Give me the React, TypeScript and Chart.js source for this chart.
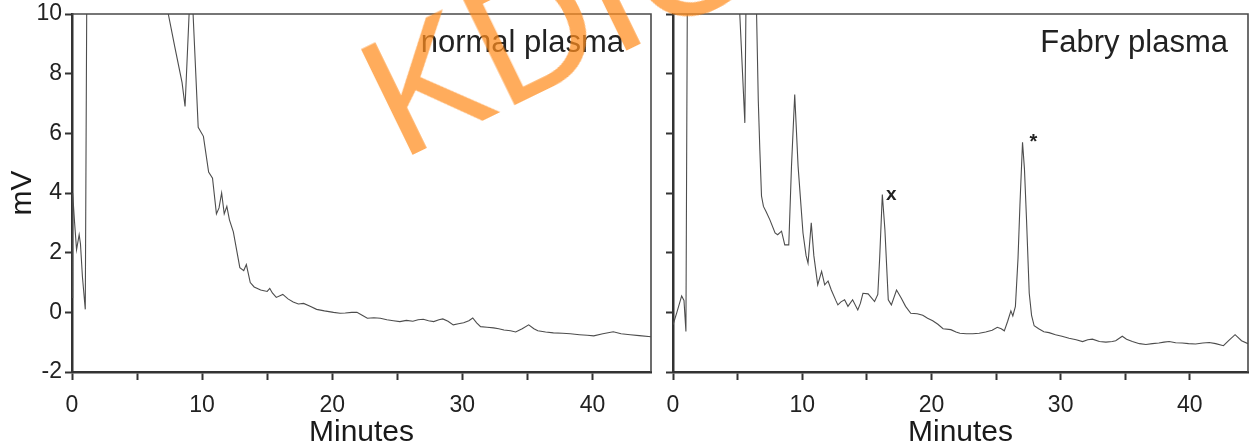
import React, { useEffect, useRef } from 'react';
import { Chart, registerables } from 'chart.js';

Chart.register(...registerables);

// ---------- data ----------
const normalTime = [
  0, 0.05, 0.2, 0.35, 0.55, 0.65, 0.8, 1.02, 1.35, 7.0,
  7.4, 7.9, 8.46, 8.69, 9.15, 9.7, 10.1, 10.5, 10.8, 11.1,
  11.3, 11.5, 11.7, 11.9, 12.1, 12.4, 12.9, 13.2, 13.4, 13.7,
  14.0, 14.5, 15.0, 15.2, 15.4, 15.7, 16.2, 16.6, 17.0, 17.4,
  17.8, 18.3, 18.8, 19.4, 20.1, 20.6, 21.0, 21.5, 21.9, 22.3,
  22.7, 23.2, 23.7, 24.2, 24.7, 25.2, 25.7, 26.2, 26.6, 27.0,
  27.4, 27.8, 28.2, 28.5, 28.9, 29.3, 29.7, 30.1, 30.5, 30.8,
  31.1, 31.4, 31.9, 32.4, 32.8, 33.2, 33.7, 34.1, 34.6, 35.1,
  35.5, 35.8, 36.4, 37.0, 37.7, 38.3, 39.0, 39.6, 40.1, 40.8,
  41.6, 42.2, 42.9, 43.6, 44.5,
];
const normalMv = [
  0.5, 4.0, 3.0, 2.1, 2.6, 2.3, 1.2, 0.1, 30, 10.9,
  10.0, 8.9, 7.7, 6.9, 11.5, 6.2, 5.9, 4.7, 4.5, 3.3,
  3.5, 4.0, 3.3, 3.55, 3.1, 2.7, 1.5, 1.4, 1.6, 1.0,
  0.85, 0.75, 0.7, 0.8, 0.65, 0.5, 0.6, 0.45, 0.35, 0.28,
  0.3, 0.2, 0.1, 0.05, 0.0, -0.03, -0.02, 0.0, 0.0, -0.1,
  -0.2, -0.18, -0.2, -0.25, -0.28, -0.31, -0.27, -0.3, -0.25, -0.23,
  -0.28, -0.31, -0.25, -0.22, -0.3, -0.42, -0.38, -0.35, -0.28, -0.19,
  -0.35, -0.48, -0.5, -0.52, -0.55, -0.59, -0.62, -0.66, -0.55, -0.42,
  -0.55, -0.62, -0.66, -0.69, -0.7, -0.72, -0.75, -0.77, -0.79, -0.72,
  -0.65, -0.72, -0.75, -0.78, -0.82,
];

const fabryTime = [
  0, 0.3, 0.67, 0.85, 1.0, 1.3, 4.9, 5.56, 5.7, 6.4,
  6.6, 6.72, 6.85, 7.0, 7.2, 7.5, 7.9, 8.1, 8.4, 8.65,
  8.96, 9.17, 9.42, 9.68, 10.06, 10.3, 10.45, 10.7, 10.9, 11.2,
  11.5, 11.74, 12.0, 12.25, 12.6, 12.76, 13.0, 13.28, 13.54, 13.9,
  14.3, 14.5, 14.7, 15.1, 15.6, 15.85, 16.0, 16.2, 16.4, 16.66,
  16.9, 17.3, 17.66, 18.0, 18.4, 18.9, 19.33, 19.7, 20.1, 20.5,
  20.9, 21.5, 21.9, 22.2, 22.7, 23.2, 23.7, 24.2, 24.7, 25.1,
  25.4, 25.64, 25.9, 26.15, 26.3, 26.5, 26.7, 26.85, 27.05, 27.2,
  27.36, 27.57, 27.75, 27.95, 28.3, 28.7, 29.1, 29.6, 30.1, 30.65,
  31.2, 31.7, 32.1, 32.46, 33.0, 33.5, 34.0, 34.26, 34.77, 35.1,
  35.55, 36.1, 36.6, 37.1, 37.6, 38.0, 38.4, 38.9, 39.4, 39.9,
  40.44, 41.0, 41.5, 42.0, 42.6, 43.0, 43.5, 44.0, 44.5,
];
const fabryMv = [
  -0.42, 0.0, 0.55, 0.4, -0.64, 30, 12.5, 6.35, 12.7, 11.5,
  7.1, 5.45, 3.9, 3.55, 3.38, 3.1, 2.66, 2.6, 2.72, 2.26,
  2.26, 4.9, 7.3, 4.9, 2.66, 1.9, 1.65, 3.0, 1.9, 0.92,
  1.37, 0.92, 1.05, 0.75, 0.4, 0.25, 0.35, 0.42, 0.2, 0.42,
  0.08, 0.3, 0.64, 0.62, 0.36, 0.6, 1.87, 3.95, 2.77, 0.42,
  0.25, 0.75, 0.48, 0.2, -0.03, -0.05, -0.1, -0.2, -0.28, -0.4,
  -0.55, -0.58, -0.66, -0.7, -0.72, -0.72, -0.7, -0.66, -0.6, -0.5,
  -0.55, -0.62, -0.3, 0.05, -0.12, 0.2, 1.8, 3.6, 5.7, 4.8,
  3.1, 0.64, -0.1, -0.45, -0.55, -0.65, -0.68, -0.75, -0.8, -0.87,
  -0.92, -0.98, -0.92, -0.9, -0.98, -1.0, -0.98, -0.95, -0.8, -0.9,
  -0.98, -1.05, -1.08, -1.05, -1.03, -1.0, -0.98, -1.02, -1.03, -1.05,
  -1.06, -1.03, -1.01, -1.05, -1.12, -0.95, -0.75, -0.95, -1.05,
];

const fabryMarkTime = [16.9, 27.9];
const fabryMarkMv = [3.94, 5.5];
const fabryMarkText = ['x', '*'];

const xTickValues = [0, 5, 10, 15, 20, 25, 30, 35, 40];
const xTickLabels = ['0', '', '10', '', '20', '', '30', '', '40'];
const yTickValues = [-2, 0, 2, 4, 6, 8, 10];
const yTickLabels = ['-2', '0', '2', '4', '6', '8', '10'];

const panelTitles = ['normal plasma', 'Fabry plasma'];
const xAxisTitle = 'Minutes';
const yAxisTitle = 'mV';
const watermarkText = 'KDIGO';

// ---------- styling ----------
const FONT = '"Liberation Sans", Arial, Helvetica, sans-serif';
const X_MIN = 0;
const X_MAX = 44.5;
const Y_MIN = -2;
const Y_MAX = 10;
const CANVAS_H = 446;

function makeDecorPlugin(label: string, inset: number, markT: number[], markV: number[], markText: string[]) {
  return {
    id: 'panelDecor',
    afterDatasetsDraw(chart: any) {
      const { ctx, chartArea } = chart;
      const { left, top, right, bottom } = chartArea;
      ctx.save();
      ctx.strokeStyle = '#4a4a4a';
      ctx.lineWidth = 1.6;
      ctx.beginPath();
      ctx.moveTo(left, top);
      ctx.lineTo(right, top);
      ctx.lineTo(right, bottom);
      ctx.stroke();

      ctx.fillStyle = '#222';
      ctx.font = `31px ${FONT}`;
      ctx.textAlign = 'right';
      ctx.textBaseline = 'alphabetic';
      ctx.fillText(label, right - inset, top + 38);

      const xs = chart.scales.x;
      const ys = chart.scales.y;
      markText.forEach((t, i) => {
        ctx.font = `bold ${t === '*' ? 20 : 19}px ${FONT}`;
        ctx.textAlign = 'center';
        ctx.textBaseline = t === '*' ? 'alphabetic' : 'middle';
        ctx.fillText(t, xs.getPixelForValue(markT[i]), ys.getPixelForValue(markV[i]));
      });
      ctx.restore();
    },
  };
}

type PanelProps = {
  time: number[];
  mv: number[];
  width: number;
  yAxisWidth: number;
  padRight: number;
  showYLabels: boolean;
  label: string;
  inset: number;
  markT: number[];
  markV: number[];
  markText: string[];
};

function Panel(p: PanelProps) {
  const ref = useRef<HTMLCanvasElement>(null);
  useEffect(() => {
    if (!ref.current) return;
    const chart = new Chart(ref.current, {
      type: 'line',
      data: {
        datasets: [
          {
            data: p.time.map((t, i) => ({ x: t, y: p.mv[i] })),
            borderColor: '#4d4d4d',
            borderWidth: 1.1,
            pointRadius: 0,
            fill: false,
            tension: 0,
          },
        ],
      },
      options: {
        animation: false,
        responsive: false,
        maintainAspectRatio: false,
        layout: { padding: { left: 0, top: 14, right: p.padRight, bottom: 0 } },
        plugins: {
          legend: { display: false },
          tooltip: { enabled: false },
          title: { display: false },
        },
        scales: {
          x: {
            type: 'linear',
            min: X_MIN,
            max: X_MAX,
            afterBuildTicks: (s: any) => {
              s.ticks = xTickValues.map((v) => ({ value: v }));
            },
            afterFit: (s: any) => {
              s.height = 74;
              s.paddingLeft = 0;
              s.paddingRight = 0;
            },
            ticks: {
              autoSkip: false,
              maxRotation: 0,
              padding: 12,
              color: '#222',
              font: { family: FONT, size: 23 },
              callback: (_v: any, i: number) => xTickLabels[i] ?? '',
            },
            grid: {
              display: true,
              drawOnChartArea: false,
              drawTicks: true,
              tickLength: 8,
              tickWidth: 2,
              tickColor: '#333',
            },
            border: { display: true, color: '#333', width: 2.5 },
            title: {
              display: true,
              text: xAxisTitle,
              color: '#1a1a1a',
              font: { family: FONT, size: 30 },
              padding: { top: 0, bottom: -5 },
            },
          },
          y: {
            type: 'linear',
            min: Y_MIN,
            max: Y_MAX,
            afterBuildTicks: (s: any) => {
              s.ticks = yTickValues.map((v) => ({ value: v }));
            },
            afterFit: (s: any) => {
              s.width = p.yAxisWidth;
              s.paddingTop = 0;
              s.paddingBottom = 0;
            },
            ticks: {
              display: p.showYLabels,
              autoSkip: false,
              padding: 3,
              color: '#222',
              font: { family: FONT, size: 23 },
              callback: (_v: any, i: number) => yTickLabels[i] ?? '',
            },
            grid: {
              display: true,
              drawOnChartArea: false,
              drawTicks: true,
              tickLength: 7,
              tickWidth: 2,
              tickColor: '#333',
            },
            border: { display: true, color: '#333', width: 2.5 },
            title: {
              display: p.showYLabels,
              text: yAxisTitle,
              color: '#1a1a1a',
              font: { family: FONT, size: 30 },
              padding: { top: 5, bottom: 0 },
            },
          },
        },
      },
      plugins: [makeDecorPlugin(p.label, p.inset, p.markT, p.markV, p.markText)],
    } as any);
    return () => chart.destroy();
  }, []);
  return (
    <canvas
      ref={ref}
      width={p.width}
      height={CANVAS_H}
      style={{ display: 'block', width: p.width, height: CANVAS_H }}
    />
  );
}

export default function App() {
  return (
    <div
      style={{
        position: 'absolute',
        left: 0,
        top: 0,
        width: 1249,
        height: 446,
        background: '#fff',
        overflow: 'hidden',
        fontFamily: FONT,
      }}
    >
      <div style={{ position: 'absolute', left: 0, top: 0 }}>
        <Panel
          time={normalTime}
          mv={normalMv}
          width={660}
          yAxisWidth={72}
          padRight={9}
          showYLabels={true}
          label={panelTitles[0]}
          inset={27}
          markT={[]}
          markV={[]}
          markText={[]}
        />
      </div>
      <div style={{ position: 'absolute', left: 660, top: 0 }}>
        <Panel
          time={fabryTime}
          mv={fabryMv}
          width={589}
          yAxisWidth={13}
          padRight={1}
          showYLabels={false}
          label={panelTitles[1]}
          inset={20}
          markT={fabryMarkTime}
          markV={fabryMarkMv}
          markText={fabryMarkText}
        />
      </div>
      <div
        style={{
          position: 'absolute',
          left: 400,
          top: 17,
          fontSize: 170,
          lineHeight: 1,
          fontFamily: FONT,
          color: 'rgb(255,140,30)',
          opacity: 0.72,
          transform: 'rotate(-26deg)',
          transformOrigin: '0px 144px',
          whiteSpace: 'nowrap',
          pointerEvents: 'none',
        }}
      >
        {watermarkText}
      </div>
    </div>
  );
}
